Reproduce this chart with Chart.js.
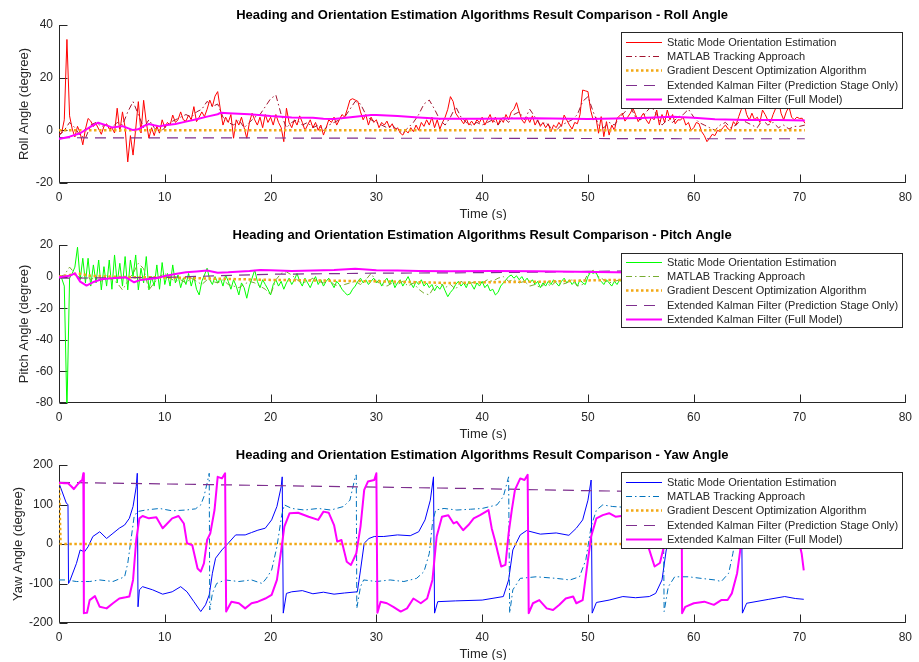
<!DOCTYPE html>
<html>
<head>
<meta charset="utf-8">
<script src="https://cdn.jsdelivr.net/npm/chart.js@4/dist/chart.umd.min.js"></script>
<style>
  html, body { margin: 0; padding: 0; background: #fff; }
  #wrap { position: relative; width: 919px; height: 662px; overflow: hidden; background: #fff; }
  #wrap canvas { position: absolute; left: 0; }
</style>
</head>
<body>
<div id="wrap">
  <canvas id="rollChart" width="919" height="220" style="top:0px"></canvas>
  <canvas id="pitchChart" width="919" height="220" style="top:220px"></canvas>
  <canvas id="yawChart" width="919" height="220" style="top:440px"></canvas>
</div>
<script>
// ---------- labels ----------
const SERIES_NAMES = [
  'Static Mode Orientation Estimation',
  'MATLAB Tracking Approach',
  'Gradient Descent Optimization Algorithm',
  'Extended Kalman Filter (Prediction Stage Only)',
  'Extended Kalman Filter (Full Model)'
];
const TITLE_BASE = 'Heading and Orientation Estimation Algorithms Result Comparison - ';
const X_LABEL = 'Time (s)';
const X_TICKS = [0, 10, 20, 30, 40, 50, 60, 70, 80];
const ROLL_TICKS = [-20, 0, 20, 40];
const PITCH_TICKS = [-80, -60, -40, -20, 0, 20];
const YAW_TICKS = [-200, -100, 0, 100, 200];

// sample spacing (s) of the uniformly sampled series
const FAST_STEP = 0.25;
const SLOW_STEP = 0.5;

// ---------- roll (degree) ----------
const ROLL_STATIC = [
  -1.5, -1.0, 4.0, 34.5, 5.5, 0.5, -2.5, 1.5, -1.0, -5.5, 0.5, 4.5, 3.5, 1.5, 2.5, 0.5, -1.5, 1.5, 2.5, 0.5,
  1.0, -1.0, 8.4, -0.5, 7.0, 1.0, -12.0, -2.0, -9.4, 0.5, 10.9, -1.0, 11.4, 3.0, -3.0, 1.0, -2.0, 1.5, -1.0, 4.0,
  1.0, 3.0, 2.0, 5.8, 3.0, 4.0, 7.0, 4.0, 3.5, 5.8, 4.0, 9.0, 3.3, 5.0, 7.0, 5.2, 8.0, 11.5, 9.0, 13.0,
  14.7, 8.0, 2.0, 5.0, 3.0, 6.0, -3.0, 4.0, 2.0, 5.0, 1.0, -3.0, 3.0, 6.5, 4.0, 2.0, 5.0, 1.0, 6.0, 3.0,
  5.0, 2.0, 6.0, 3.0, 1.0, -4.3, 8.4, 3.0, 1.0, 4.0, 2.0, 5.5, 3.0, 0.0, 2.0, 4.0, 1.0, 3.0, 0.0, 2.0,
  -1.8, 1.0, 4.0, 3.0, 5.0, 2.0, 4.0, 6.0, 5.0, 8.0, 11.5, 12.0, 11.5, 11.0, 7.0, 4.0, 6.0, 2.0, 5.0, 3.0,
  4.0, 1.0, 3.0, 2.0, 3.5, 1.0, 2.5, 0.0, 1.0, -1.0, -1.8, 0.0, -1.0, 1.0, -0.5, 2.0, 0.0, 3.0, 1.5, 4.0,
  2.0, 5.0, 1.0, 4.0, 0.5, 3.0, 5.0, 8.0, 12.8, 11.0, 6.5, 5.0, 4.0, 2.5, 4.5, 2.0, 3.5, 2.0, 4.0, 3.0,
  5.0, 2.0, 4.0, 6.0, 3.0, 5.0, 2.0, 4.5, 3.0, 6.0, 4.0, 7.0, 8.0, 10.5, 7.0, 4.0, 2.7, 5.0, 3.0, 5.5,
  2.0, 4.0, 1.5, 3.0, 1.0, 2.5, -0.5, 2.0, 1.0, 3.0, 1.5, 5.8, 3.9, 2.0, 0.5, 3.0, 2.5, 6.0, 15.3, 15.0,
  14.7, 7.7, 3.9, 5.0, -1.1, 5.2, -2.4, 3.3, -1.8, 2.0, 0.0, 4.6, 5.5, 6.5, 3.5, 5.0, 6.5, 8.4, 6.0, 3.3,
  5.0, 6.5, 4.0, 2.5, 5.0, 4.0, 7.7, 2.0, 6.0, 3.0, 7.7, 4.0, 6.0, 2.5, 4.0, 3.9, 5.0, 2.0, 3.0, 0.0,
  1.0, 3.0, 2.5, -0.5, -2.0, -4.3, -3.0, -1.5, -2.0, 0.0, -0.5, 1.0, 2.0, 0.5, 0.0, 3.3, 2.0, 5.2, 8.0, 10.3,
  6.0, 3.9, 6.5, 4.0, 5.0, 3.0, 7.7, 6.0, 3.9, 3.0, 6.0, 8.4, 12.0, 6.5, 4.0, 7.0, 9.0, 5.0, 4.0, 5.0,
  4.5, 4.6, 2.7
];
const ROLL_MATLAB = [
  -2, 0, 3, 1, -2, -3, 2, 3, 1.5, 2,
  1, 3, 2, 7, 10.9, 6, 1, 4, 1, -1,
  1, 3, 4, 5, 6, 5, 7, 8, 11, 9,
  10, 5, 3, 2, 4, 1, 3, 5, 6, 9,
  12, 13.4, 6, 1, 3, 4, 2, 3, 1, 2,
  0, 2, 3, 4, 5, 8, 11, 10, 6, 4,
  3, 2, 1, 2, 0, -1, 1, 3, 6, 10,
  11.5, 8, 4, 2, 5, 9, 5, 3, 2, 3,
  2, 3, 4, 2, 5, 3, 6, 7, 4, 8,
  5, 2, 3, 1, 0, 2, 3, 4, 6, 11,
  12.8, 7, 2, 1, 3, 2, 5, 7, 9, 5,
  4, 7, 9, 6, 2, 4, 3, 5, 6, 8,
  5, 3, 2, 1, 0, 2, 3, 1, 2, 4,
  3, 2, 1, 4, 2, 3, 1, 2, 0.5, 1.5,
  1.5, 2
];
const ROLL_GRADIENT = [[0, 0], [70.5, 0]];
const ROLL_EKF_PRED = [[0, -2.8], [10, -2.9], [20, -2.9], [30, -3.0], [40, -3.0], [50, -3.1], [60, -3.2], [70.5, -3.2]];
const ROLL_EKF = [
  [0, -3.3], [1, -2.4], [2, -1.1], [3, 1.4], [3.7, 2.9], [4.5, 1.9], [5, 1.1], [6, 1.6], [7, 0.1], [7.5, 0.4],
  [8, 1.6], [8.5, 2.4], [9, 1.9], [9.5, 1.5], [10, 1.9], [11, 2.4], [12, 3.3], [13, 4.2], [14, 5.2], [15, 6.1],
  [15.3, 6.7], [16, 6.5], [18, 6.1], [20, 5.4], [22, 4.9], [24, 4.8], [25, 4.4], [26, 4.3], [28, 5.2], [29.5, 5.8],
  [30, 5.8], [32, 5.4], [34, 4.9], [36, 4.4], [40, 4.4], [45, 4.6], [50, 4.3], [55, 4.7], [58, 5.2], [60, 4.8],
  [62, 4.2], [65, 3.9], [68, 3.9], [70.5, 3.7]
];

// ---------- pitch (degree) ----------
const PITCH_STATIC = [
  0, -1, -6, -85, -1, 2, 6, 18.6, -2, 11.6, -4, 11.6, -6, 7.4, -4, 10.5, -8.4, 6.3, -6, 10.5,
  -8, 13.7, -4, 8.4, -6, 12.7, -8.4, 10.5, 0, 13.7, -8.4, 5.3, -4, 12.7, -8.4, 0, -6, 7.4, -8, 8.9,
  -5, 2, -6, 7.4, -4, 1, -7, -1, -5, 2, -6, 0, -8, -11.6, -3, 1, 5.3, -2, -5, 0,
  -4, -1, -6, 1, -3, -8, -2, -6, -11.6, -4, -7, -13.7, -6, -1, 4.2, -3, -7, -2, -5, -8,
  -11.6, -5, -2, -6, -3, -8, -4, -1, -5, -2, 2, -3, -6, -1, -4, -7, -3, 0, -5, -2,
  -6, -3, -1, -4, -7, -3, -5, -8, -10, -11.6, -11, -8, -6, -3, -1, -4, -2, -5, -3, -1,
  -4, -2, -6, -3, -1, -5, -2, -7, -4, -2, -6, -3, 0, -4, -7, -3, -5, -2, -6, -4,
  -7, -5, -9, -6, -8, -5, -9, -12.7, -10, -8, -5, -3, -6, -4, -7, -3, -5, -8, -4, -6,
  -3, -7, -5, -9, -8, -11.6, -10, -6, -4, -2, 0, 1, -1, 0.5, -2, 0, -3, -1, -4, -2,
  -5, -3, -7, -4, -6, -3, -5, -2, -4, -6, -3, -1, -4, -2, -5, -3, -6, -2, -4, -5,
  0, 3, 2, 3, -1, -3, -5, -2, -4, -6, -3, -5, -2, -4, -6, -3, -5, -2, -4, -6,
  -3, -5, -2, -4
];
const PITCH_MATLAB = [
  0, 1, 6, 2, -1, 1, -2, 0, -3, 1,
  -2, -4, -8.4, -3, 2, 8.4, 5, -8.4, -4, 0,
  2, -1, -3, -2, -4, -1, -3, -5, -2, -3,
  -4, -2, -5, -6, -7, -5, -3, -4, -6, -8,
  -11.6, -2, 2, 3, 1, -2, -4, -3, -1, -3,
  -4, -2, -5, -6, -5, -4, -3, -5, -2, 2,
  -3, -5, -6, -4, -5, -3, -6, -4, -8, -10.5,
  -11.6, -6, -4, -7, -5, -8, -3, -5, -4, -3,
  -4, -2, -3, -1, 0, -3, -2, -4, -3, -6,
  -5, -7, -4, -6, -3, -5, -4, -2, -6, -5,
  2, 4, 0, -2, -4, -3, -2, -4, -3, -5,
  -3, -4, -3
];
const PITCH_GRADIENT = [
  [0, 0], [1, 1], [1.8, 2], [3, 0.5], [6, -0.3], [10, -0.5], [14, -1.2], [20, -2.1],
  [26, -2.6], [32, -3.2], [37, -4.1], [42, -3.4], [46, -3.2], [50, -2.4], [53, -2.1], [56, -2.2]
];
const PITCH_EKF_PRED = [
  [0, -1], [5, -0.8], [10, -0.5], [15, 0.5], [20, 1.5], [25, 1.8], [30, 2.2], [35, 2.3],
  [40, 2.5], [45, 2.8], [50, 3.3], [56, 3.8]
];
const PITCH_EKF = [
  [0, -0.4], [1, 0.5], [1.5, 2.1], [2, -3.2], [2.6, -5.7], [3.2, -3.6], [4, -1.7], [5, -1], [6.3, -0.4], [7.1, -3.6],
  [7.7, -2.1], [8.5, -1.5], [9.2, -1.0], [10, 0.4], [11, 1.7], [12, 2.7], [13, 3.2], [14, 3.8], [15, 2.5], [16, 2.7],
  [18, 3.6], [19, 4.2], [20, 4.0], [22, 3.6], [24, 3.8], [26, 4.2], [28, 4.9], [30, 4.0], [32, 3.8], [34, 3.6],
  [37, 3.4], [41, 3.6], [45, 3.4], [49, 3.1], [52.6, 2.7], [56, 2.5]
];

// ---------- yaw (degree) ----------
const YAW_STATIC = [
  [0, 154], [0.7, 103], [0.85, 100], [0.9, -100], [1.0, -95], [1.65, -49], [2.0, -15], [2.4, -20], [2.75, -7], [3.2, 19],
  [3.85, 31], [4.5, 14], [5.1, 27], [5.7, 40], [6.2, 48], [6.65, 65], [7.0, 95], [7.3, 145], [7.4, 179], [7.47, -159],
  [7.6, -116], [7.9, -108], [8.85, -116], [9.8, -127], [10.7, -121], [11.5, -108], [12.1, -121], [12.75, -146], [13.4, -171], [13.85, -154],
  [14.2, -129], [14.5, -74], [14.8, -36], [15.4, -15], [16.0, 2], [16.7, 23], [17.6, 23], [18.2, 29], [18.8, 35], [19.5, 40],
  [20.1, 61], [20.6, 95], [21.0, 145], [21.1, 170], [21.2, -175], [21.5, -125], [22.0, -121], [23, -118], [24, -126], [25, -122],
  [26, -127], [27, -124], [28.2, -121], [28.5, -66], [28.85, 2], [29.3, 14], [29.8, 19], [30.7, 19], [32, 23], [33.2, 21],
  [34, 31], [34.6, 61], [35.1, 111], [35.4, 170], [35.5, -175], [35.8, -146], [37.5, -144], [40, -142], [42, -133], [42.5, -91],
  [42.9, -15], [43.6, 23], [44.2, 34], [45.5, 25], [47, 28], [48.2, 22], [48.9, 40], [49.5, 61], [50, 111], [50.3, 162],
  [50.4, -175], [50.8, -148], [52, -142], [53.3, -133], [54.5, -136], [55.8, -133], [56.4, -125], [57, -91], [57.4, -15], [58, 20],
  [60, 25], [62, 28], [63.5, 40], [64, 80], [64.5, 165], [64.6, -175], [65, -150], [67.1, -140], [68.6, -133], [69.6, -138],
  [70.4, -140]
];
const YAW_MATLAB = [
  [0, -91], [0.7, -91], [1.65, -95], [2.9, -95], [3.85, -91], [5.1, -95], [6.2, -83], [6.5, -49], [6.8, 10], [7.1, 69],
  [7.4, 82], [8.2, 86], [9.5, 90], [10.7, 84], [12, 86], [12.9, 89], [13.4, 99], [13.7, 120], [14, 154], [14.2, 179],
  [14.25, -167], [14.5, -125], [14.9, -100], [15.7, -91], [17, -95], [18.2, -91], [19.2, -100], [19.6, -87], [20.1, -66], [20.6, -7],
  [21.05, 73], [21.3, 99], [22, 90], [23.2, 86], [24.5, 90], [25.7, 86], [26.9, 95], [27.5, 111], [28, 170], [28.1, 175],
  [28.15, -163], [28.5, -108], [28.8, -91], [30, -95], [31.3, -91], [32.6, -95], [33.8, -87], [34.5, -70], [35, -24], [35.3, 52],
  [35.6, 86], [36.4, 90], [37.6, 86], [38.9, 88], [40, 90], [41.4, 99], [42, 120], [42.5, 170], [42.6, -175], [42.9, -116],
  [43.6, -87], [45.1, -83], [47, -87], [48.3, -91], [49.2, -83], [49.8, -40], [50.3, 44], [50.8, 86], [51.4, 99], [52.3, 95],
  [54, 92], [56, 100], [56.7, 140], [57.1, 178], [57.2, -171], [57.6, -108], [58.2, -83], [59.5, -83], [60.7, -87], [62, -91],
  [62.6, -95], [63.3, -74], [63.7, -24], [64.1, 40], [64.5, 80], [65.5, 90], [68, 92], [70.4, 90]
];
const YAW_GRADIENT = [[0, 155], [0.15, 0], [70.5, 0]];
const YAW_EKF_PRED = [[0, 156], [10, 152], [20, 148], [30, 144], [40, 140], [50, 135], [60, 131], [70.5, 126]];
const YAW_EKF = [
  [0, 155], [0.55, 154], [0.85, 154], [1.2, 145], [1.4, 139], [1.7, 149], [2.0, 158], [2.2, 162], [2.3, 179], [2.35, -175],
  [2.65, -174], [2.9, -142], [3.4, -132], [3.85, -159], [4.5, -163], [5.1, -150], [5.7, -138], [6.3, -135], [6.65, -133], [7, -91],
  [7.3, 10], [7.6, 65], [7.9, 71], [8.5, 65], [9.2, 68], [9.8, 40], [10.1, 48], [10.7, 65], [11.3, 71], [11.8, 52],
  [12.1, 2], [12.6, -3], [13.1, -62], [13.4, -70], [13.7, -49], [14, 10], [14.3, 27], [14.7, 86], [15, 170], [15.4, 166],
  [15.7, 179], [15.8, -171], [16.3, -146], [17, -150], [17.6, -163], [18.2, -150], [18.8, -146], [19.5, -138], [20.1, -129], [20.6, -91],
  [21.05, -7], [21.3, 44], [21.8, 78], [22.6, 79], [23.6, 69], [24.5, 61], [25, 82], [25.5, 79], [26, 48], [26.3, 6],
  [26.7, 10], [27.2, -45], [27.6, -53], [28.1, -24], [28.5, 44], [28.85, 137], [29.2, 158], [29.8, 162], [30, 179], [30.1, -174],
  [30.4, -146], [31, -150], [31.6, -159], [32.3, -171], [32.9, -163], [33.5, -138], [34.2, -150], [34.8, -138], [35.3, -91], [35.7, 19],
  [36.2, 69], [36.8, 73], [37.3, 52], [37.6, 56], [38.2, 35], [38.7, 48], [39.2, 65], [39.8, 73], [40.6, 86], [40.9, 40],
  [41.2, 10], [41.5, -24], [41.8, -57], [42.2, -53], [42.5, 27], [42.8, 86], [43.1, 137], [43.6, 166], [44, 162], [44.3, 175],
  [44.4, -175], [44.8, -150], [45.4, -142], [46.1, -163], [46.7, -167], [47.3, -154], [47.9, -138], [48.6, -133], [48.9, -150], [49.5, -142],
  [50, -40], [50.3, 19], [50.8, 65], [51.4, 73], [52, 78], [52.6, 69], [53.5, 72], [54.5, 60], [55.2, 20], [55.8, -15],
  [56.3, -57], [56.8, -48], [57.1, -15], [57.6, 40], [58.2, 110], [58.7, 165], [58.85, 178], [58.9, -175], [59.2, -159], [60, -150],
  [61, -146], [61.9, -154], [62.6, -142], [63.2, -142], [63.6, -125], [64.1, -74], [64.4, -15], [64.8, 60], [65.5, 75], [67, 70],
  [68.5, 60], [69.5, 40], [70, 0], [70.2, -24], [70.4, -67]
];

// ---------- styling ----------
const FONT = '"Liberation Sans", Arial, Helvetica, sans-serif';
const INK = '#262626';
const ORANGE = 'rgb(242,168,20)';
const PURPLE = 'rgb(126,47,142)';
const MAGENTA = '#ff00ff';
const TICK_LEN = 8;
// line width / dash for each of the five methods (same order as SERIES_NAMES)
const LINE_STYLES = [
  { width: 1, dash: [] },
  { width: 1, dash: [6, 3, 1.5, 3] },
  { width: 2.5, dash: [2.5, 2.5] },
  { width: 1.2, dash: [11, 7] },
  { width: 2, dash: [] }
];

Chart.defaults.font.family = FONT;

function uniformSeries(values, step) {
  return values.map((v, i) => ({ x: Math.round(i * step * 100) / 100, y: v }));
}
function pairSeries(pairs) {
  return pairs.map(([x, y]) => ({ x, y }));
}

// axes, inward ticks, titles and the boxed legend, drawn MATLAB-style
function panelOverlay(panel) {
  return {
    id: 'panelOverlay',
    beforeDatasetsDraw(chart) {
      const { ctx, chartArea: a, scales } = chart;
      const L = Math.round(a.left) + 0.5;
      const B = Math.round(a.bottom) - 0.5;
      ctx.save();
      ctx.strokeStyle = INK;
      ctx.lineWidth = 1;
      ctx.beginPath();
      ctx.moveTo(L, a.top);
      ctx.lineTo(L, B);
      ctx.lineTo(a.right + 0.5, B);
      X_TICKS.forEach(v => {
        const px = Math.round(scales.x.getPixelForValue(v)) + 0.5;
        ctx.moveTo(px, B);
        ctx.lineTo(px, B - TICK_LEN);
      });
      panel.yTicks.forEach(v => {
        const py = Math.round(scales.y.getPixelForValue(v)) + 0.5;
        ctx.moveTo(L, py);
        ctx.lineTo(L + TICK_LEN, py);
      });
      ctx.stroke();
      ctx.restore();
    },
    afterDraw(chart) {
      const { ctx, chartArea: a } = chart;
      const cx = (a.left + a.right) / 2;
      ctx.save();
      // title
      ctx.fillStyle = '#000';
      ctx.font = 'bold 13px ' + FONT;
      ctx.textAlign = 'center';
      ctx.textBaseline = 'middle';
      ctx.fillText(panel.title, cx, 15);
      // x label
      ctx.fillStyle = INK;
      ctx.font = '13px ' + FONT;
      ctx.fillText(X_LABEL, cx + 1, a.bottom + 31);
      // y label
      ctx.save();
      ctx.translate(panel.yLabelX, (a.top + a.bottom) / 2);
      ctx.rotate(-Math.PI / 2);
      ctx.textBaseline = 'alphabetic';
      ctx.fillText(panel.yLabel, 0, 0);
      ctx.restore();
      // legend
      const lx = 621, lw = 281, ly = a.top + panel.legendTop, lh = panel.legendH;
      ctx.fillStyle = '#fff';
      ctx.fillRect(lx, ly, lw, lh);
      ctx.strokeStyle = INK;
      ctx.lineWidth = 1;
      ctx.strokeRect(lx + 0.5, ly + 0.5, lw, lh);
      ctx.font = '11px ' + FONT;
      ctx.textAlign = 'left';
      ctx.textBaseline = 'middle';
      SERIES_NAMES.forEach((name, i) => {
        const y = Math.round(ly + panel.firstRow + i * 14.2) + 0.5;
        const st = LINE_STYLES[i];
        ctx.save();
        ctx.strokeStyle = panel.colors[i];
        ctx.lineWidth = st.width;
        ctx.setLineDash(st.dash);
        ctx.beginPath();
        ctx.moveTo(626, y);
        ctx.lineTo(662, y);
        ctx.stroke();
        ctx.restore();
        ctx.fillStyle = INK;
        ctx.fillText(name, 667, y);
      });
      ctx.restore();
    }
  };
}

function makePanel(canvasId, panel) {
  const datasets = panel.series.map((data, i) => ({
    label: SERIES_NAMES[i],
    data,
    borderColor: panel.colors[i],
    backgroundColor: panel.colors[i],
    borderWidth: LINE_STYLES[i].width,
    borderDash: LINE_STYLES[i].dash,
    borderJoinStyle: 'round',
    borderCapStyle: 'butt',
    pointRadius: 0,
    pointHoverRadius: 0,
    fill: false,
    tension: 0,
    clip: 0,
    order: 5 - i
  }));
  return new Chart(document.getElementById(canvasId), {
    type: 'line',
    data: { datasets },
    options: {
      responsive: false,
      animation: false,
      devicePixelRatio: 1,
      events: [],
      layout: { autoPadding: false, padding: { top: 25, right: 8, left: 0, bottom: 0 } },
      plugins: { legend: { display: false }, tooltip: { enabled: false }, title: { display: false } },
      scales: {
        x: {
          type: 'linear', min: 0, max: 80,
          afterBuildTicks: s => { s.ticks = X_TICKS.map(v => ({ value: v })); },
          afterFit: s => { s.height = 37; },
          grid: { display: false, drawTicks: false },
          border: { display: false },
          ticks: { color: INK, font: { family: FONT, size: 12 }, padding: 7, maxRotation: 0, autoSkip: false }
        },
        y: {
          type: 'linear', min: panel.yMin, max: panel.yMax,
          afterBuildTicks: s => { s.ticks = panel.yTicks.map(v => ({ value: v })); },
          afterFit: s => { s.width = 59; },
          grid: { display: false, drawTicks: false },
          border: { display: false },
          ticks: { color: INK, font: { family: FONT, size: 12 }, padding: 6 }
        }
      }
    },
    plugins: [panelOverlay(panel)]
  });
}

makePanel('rollChart', {
  title: TITLE_BASE + 'Roll Angle',
  yLabel: 'Roll Angle (degree)',
  yLabelX: 28,
  yMin: -20, yMax: 40, yTicks: ROLL_TICKS,
  legendTop: 7, legendH: 76, firstRow: 10,
  colors: ['#ff0000', '#a2142f', ORANGE, PURPLE, MAGENTA],
  series: [
    uniformSeries(ROLL_STATIC, FAST_STEP),
    uniformSeries(ROLL_MATLAB, SLOW_STEP),
    pairSeries(ROLL_GRADIENT),
    pairSeries(ROLL_EKF_PRED),
    pairSeries(ROLL_EKF)
  ]
});

makePanel('pitchChart', {
  title: TITLE_BASE + 'Pitch Angle',
  yLabel: 'Pitch Angle (degree)',
  yLabelX: 28,
  yMin: -80, yMax: 20, yTicks: PITCH_TICKS,
  legendTop: 8, legendH: 74, firstRow: 9,
  colors: ['#00ff00', '#77ac30', ORANGE, PURPLE, MAGENTA],
  series: [
    uniformSeries(PITCH_STATIC, FAST_STEP),
    uniformSeries(PITCH_MATLAB, SLOW_STEP),
    pairSeries(PITCH_GRADIENT),
    pairSeries(PITCH_EKF_PRED),
    pairSeries(PITCH_EKF)
  ]
});

makePanel('yawChart', {
  title: TITLE_BASE + 'Yaw Angle',
  yLabel: 'Yaw Angle (degree)',
  yLabelX: 22,
  yMin: -200, yMax: 200, yTicks: YAW_TICKS,
  legendTop: 7, legendH: 76, firstRow: 10,
  colors: ['#0000ff', '#0072bd', ORANGE, PURPLE, MAGENTA],
  series: [
    pairSeries(YAW_STATIC),
    pairSeries(YAW_MATLAB),
    pairSeries(YAW_GRADIENT),
    pairSeries(YAW_EKF_PRED),
    pairSeries(YAW_EKF)
  ]
});
</script>
</body>
</html>
